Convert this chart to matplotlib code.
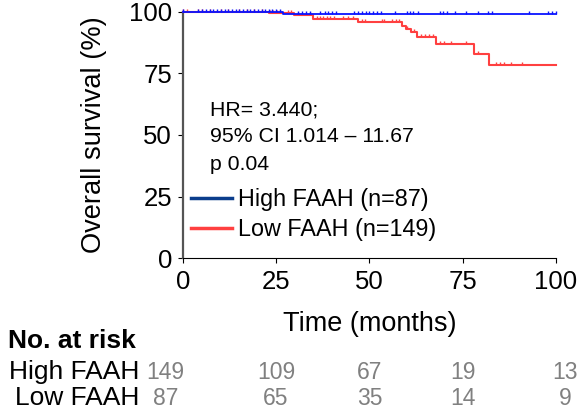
import numpy as np
import matplotlib
matplotlib.use("Agg")
import matplotlib.pyplot as plt
from matplotlib.path import Path
from matplotlib.lines import Line2D

plt.rcParams['font.family'] = ['Liberation Sans', 'DejaVu Sans']

# ---- data ----
red_t = [0, 23.0, 29.8, 35.0, 46.9, 58.7, 59.8, 61.1, 62.8, 67.8, 78.0, 82.1, 100]
red_s = [100, 99.3, 98.6, 97.2, 95.7, 94.3, 93.0, 91.8, 89.8, 87.1, 82.9, 78.5, 78.5]
blue_t = [0, 26.9, 100]
blue_s = [100, 98.9, 98.9]

red_cens = [0.2, 1.1, 4.2, 5.3, 7.3, 10.2, 12.2, 15.2, 17.1, 19.1, 21.2, 23.4, 24.3, 25.2,
            26.1, 28.3, 29.0, 31.0, 34.1, 35.9, 36.8, 37.7, 38.6, 39.5, 40.4, 43.0, 44.4,
            45.7, 47.9, 48.8, 53.3, 54.0, 56.0, 57.1, 57.9, 60.0, 62.0, 63.8, 64.9, 66.0,
            67.0, 68.9, 70.1, 71.9, 75.9, 79.0, 83.9, 85.0, 86.1, 87.9, 91.0]
blue_cens = [0.2, 4.2, 5.3, 6.2, 7.3, 8.2, 9.1, 10.2, 11.2, 12.2, 13.1, 14.2, 15.2, 16.1,
             17.1, 18.0, 19.1, 20.1, 21.2, 22.0, 23.1, 24.0, 25.0, 26.1, 31.0, 32.0, 33.0,
             34.1, 36.9, 38.1, 39.0, 40.1, 41.0, 46.0, 47.0, 48.0, 49.0, 50.0, 51.1, 52.0,
             53.0, 57.0, 60.0, 60.9, 61.8, 63.0, 68.9, 69.8, 70.7, 72.9, 75.9, 79.0, 81.9,
             82.8, 92.8, 97.9, 98.8, 99.9]

xticks = [0, 25, 50, 75, 100]
yticks = [0, 25, 50, 75, 100]
groups = ["High FAAH", "Low FAAH"]
risk_high = [149, 109, 67, 19, 13]
risk_low = [87, 65, 35, 14, 9]
legend_labels = ["High FAAH (n=87)", "Low FAAH (n=149)"]
stats_text = "HR= 3.440;\n95% CI 1.014 \u2013 11.67\np 0.04"

RED = "#ff4040"
BLUE = "#0a14ff"
NAVY = "#0b3d8c"

W, H = 586, 411
fig = plt.figure(figsize=(W / 100, H / 100), dpi=100)
ax = fig.add_axes([182.7 / W, 1 - 258.3 / H, (556 - 182.7) / W, (258.3 - 11.7) / H])

def step_val(t, s, x):
    i = np.searchsorted(t, x, side='right') - 1
    return np.asarray(s)[i]

tick_marker = Path([(0, 0), (0, 1)], [Path.MOVETO, Path.LINETO])

ax.step(red_t, red_s, where='post', color=RED, lw=1.5, clip_on=False, zorder=3)
ax.plot(red_cens, step_val(red_t, red_s, red_cens), ls='none', marker=tick_marker,
        ms=5, mew=1.0, color=RED, clip_on=False, zorder=3)
ax.step(blue_t, blue_s, where='post', color=BLUE, lw=1.3, clip_on=False, zorder=4)
ax.plot(blue_cens, step_val(blue_t, blue_s, blue_cens), ls='none', marker=tick_marker,
        ms=5, mew=1.0, color=BLUE, clip_on=False, zorder=4)

ax.set_xlim(0, 100)
ax.set_ylim(0, 100)
ax.set_xticks(xticks)
ax.set_yticks(yticks)
ax.tick_params(axis='both', labelsize=18.5, direction='out', length=3.6, width=0.8)
ax.tick_params(axis='x', pad=5)
ax.tick_params(axis='y', pad=4)
for s in ['top', 'right']:
    ax.spines[s].set_visible(False)
ax.spines['left'].set_color('#555555')
ax.spines['left'].set_linewidth(1.6)
ax.spines['bottom'].set_color('#000000')
ax.spines['bottom'].set_linewidth(0.8)
ax.set_xlabel("Time (months)", fontsize=19.5, labelpad=12)
ax.set_ylabel("Overall survival (%)", fontsize=19.6, labelpad=16)

ax.text(210 / W, 1 - 100 / H, stats_text, transform=fig.transFigure, fontsize=15.3,
        va='top', ha='left', linespacing=1.56)

handles = [Line2D([], [], color=NAVY, lw=2.5), Line2D([], [], color=RED, lw=2.5)]
leg = fig.legend(handles, legend_labels, loc='upper left',
                 bbox_to_anchor=(191 / W, 1 - 188 / H), frameon=False, fontsize=16.8,
                 handlelength=1.75, handletextpad=0.27, labelspacing=0.3,
                 borderaxespad=0, borderpad=0)

def px(x, y):
    return x / W, 1 - y / H

fig.text(*px(8, 341), "No. at risk", fontsize=19, fontweight='bold', va='center', ha='left')
for row, (g, vals) in enumerate(zip(groups, [risk_high, risk_low])):
    y = 372 + row * 26
    fig.text(*px(139, y), g, fontsize=19, va='center', ha='right')
    for i, (xt, v) in enumerate(zip(xticks, vals)):
        xp = 182.7 + (556 - 182.7) * xt / 100
        if i == 0:
            xp -= 17
        elif i == len(xticks) - 1:
            xp += 9
        fig.text(*px(xp, y), str(v), fontsize=16.5, va='center', ha='center', color='#808080')

fig.savefig("out.png", dpi=100)
